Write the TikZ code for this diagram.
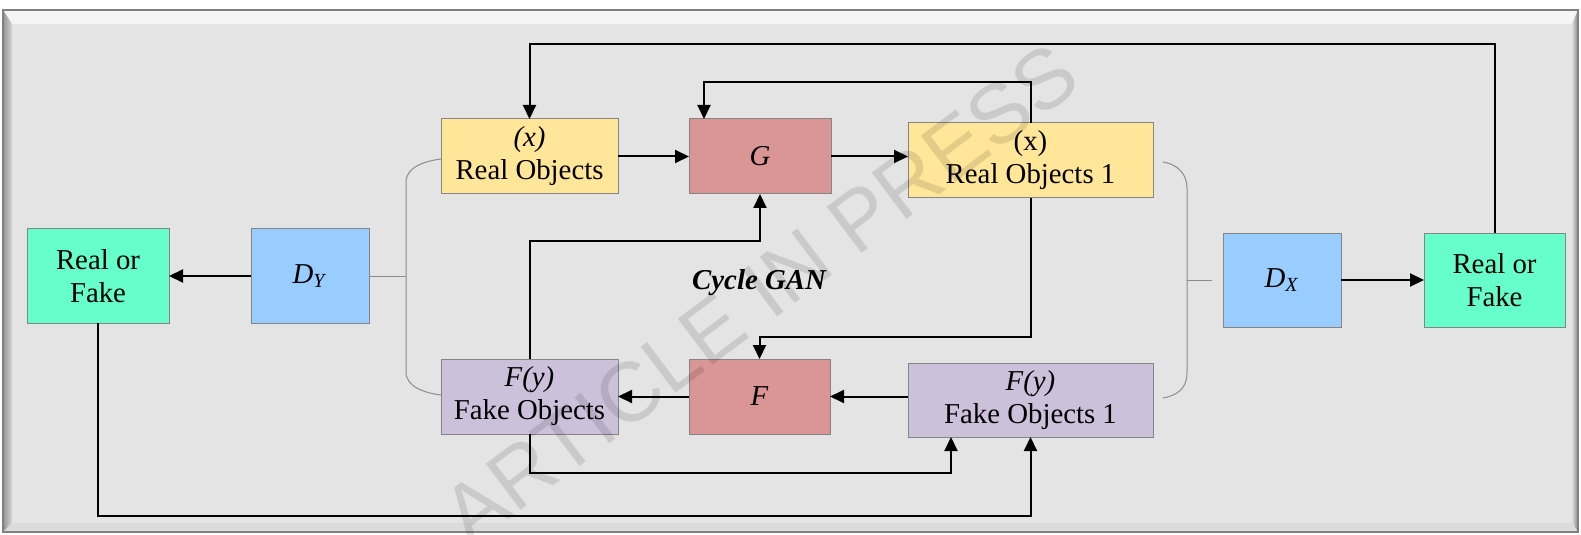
\documentclass[tikz,border=0pt]{standalone}
\usepackage{fontspec}
\setmainfont{Liberation Serif}
\newfontfamily\wmfont{Liberation Sans}
\usetikzlibrary{arrows.meta,calc}
\definecolor{bgface}{HTML}{E4E4E4}
\definecolor{boxline}{HTML}{858585}
\definecolor{realfill}{HTML}{FFE699}
\definecolor{genfill}{HTML}{D99694}
\definecolor{fakefill}{HTML}{CCC1DA}
\definecolor{discfill}{HTML}{99CCFF}
\definecolor{outfill}{HTML}{66FFCC}
\definecolor{bracegray}{HTML}{8C8C8C}
\begin{document}
\begin{tikzpicture}[x=0.5pt,y=-0.5pt,
  box/.style={draw=boxline, line width=0.5pt, inner sep=0pt, outer sep=0pt,
    align=center, font=\fontsize{14.4}{16.5}\selectfont},
  arr/.style={draw=black, line width=1pt, line join=miter,
    -{Triangle[length=7pt,width=6.5pt]}},
  brace/.style={draw=bracegray, line width=0.5pt}]
\useasboundingbox (0,0) rectangle (1581,535);

% bevelled frame
\fill[bgface] (3,10) rectangle (1578,532);
\fill[white!96!black] (3,10) -- (1578,10) -- (1572,24) -- (12,24) -- cycle;
\shade[left color=black!42, right color=black!16] (3,10) -- (12,24) -- (12,523) -- (3,532) -- cycle;
\shade[left color=black!14, right color=black!48] (1578,10) -- (1572,24) -- (1572,523) -- (1578,532) -- cycle;
\fill[black!14] (3,532) -- (12,523) -- (1572,523) -- (1578,532) -- cycle;
\fill[bgface] (12,24) rectangle (1572,523);
\draw[black!50, line width=0.6pt] (3,10) rectangle (1578,532);

% blocks
\node[box, fill=outfill, minimum width=71pt, minimum height=47pt] (rofL) at (98,276) {Real or\\Fake};
\node[box, fill=discfill, minimum width=59pt, minimum height=47pt] (dy) at (310,276) {\textit{D}\textsubscript{\textit{Y}}};
\node[box, fill=realfill, minimum width=88.5pt, minimum height=37.5pt] (ro) at (529.5,156.5) {\textit{(x)}\\Real Objects};
\node[box, fill=genfill, minimum width=71pt, minimum height=37.5pt] (g) at (760,156.5) {\textit{G}};
\node[box, fill=realfill, minimum width=122.5pt, minimum height=37.5pt] (ro1) at (1030.5,160.5) {(x)\\Real Objects 1};
\node[box, fill=fakefill, minimum width=88.5pt, minimum height=37.5pt] (fo) at (529.5,396.5) {\textit{F(y)}\\Fake Objects};
\node[box, fill=genfill, minimum width=70.5pt, minimum height=37.5pt] (f) at (759.5,396.5) {\textit{F}};
\node[box, fill=fakefill, minimum width=122.5pt, minimum height=37pt] (fo1) at (1030.5,400) {\textit{F(y)}\\Fake Objects 1};
\node[box, fill=discfill, minimum width=59pt, minimum height=47pt] (dx) at (1282,280) {\textit{D}\textsubscript{\textit{X}}};
\node[box, fill=outfill, minimum width=70.5pt, minimum height=47pt] (rofR) at (1494.5,280) {Real or\\Fake};

\node[font=\fontsize{14.4}{16.5}\selectfont\bfseries\itshape] (title) at (759,283) {Cycle GAN};

% routing levels
\coordinate (ytop) at (0,44);
\coordinate (ysec) at (0,82);
\coordinate (ymid) at (0,241);
\coordinate (ylow) at (0,337);
\coordinate (yfo) at (0,473);
\coordinate (ybot) at (0,516);
\coordinate (gin) at ($(g.north west)+(15,0)$);
\coordinate (foin) at ($(fo1.south west)+(43,0)$);

% straight connectors
\draw[arr] (ro.east) -- (g.west);
\draw[arr] (g.east) -- (g.east -| ro1.west);
\draw[arr] (f.west) -- (fo.east);
\draw[arr] (f.east -| fo1.west) -- (f.east);
\draw[arr] (dy.west) -- (rofL.east);
\draw[arr] (dx.east) -- (rofR.west);

% cycle connectors
\draw[arr] (rofR.north) -- (rofR.north |- ytop) -- (ro.north |- ytop) -- (ro.north);
\draw[arr] (ro1.north) -- (ro1.north |- ysec) -- (gin |- ysec) -- (gin);
\draw[arr] (fo.north) -- (fo.north |- ymid) -- (g.south |- ymid) -- (g.south);
\draw[arr] (ro1.south) -- (ro1.south |- ylow) -- (f.north |- ylow) -- (f.north);
\draw[arr] (fo.south) -- (fo.south |- yfo) -- (foin |- yfo) -- (foin);
\draw[arr] (rofL.south) -- (rofL.south |- ybot) -- (fo1.south |- ybot) -- (fo1.south);

% discriminator braces
\coordinate (lb) at (406,276);
\draw[brace] (dy.east) -- (lb);
\draw[brace] (ro.west |- 0,159) .. controls (425,161) and (406,167) .. (406,182)
  -- (406,372) .. controls (406,387) and (425,393) .. (fo.west |- 0,395);
\coordinate (rb) at (1187,280);
\draw[brace] (rb) -- (1212,280);
\draw[brace] (1163,162) .. controls (1180,165) and (1187,176) .. (1187,188)
  -- (1187,373) .. controls (1187,386) and (1180,395) .. (1163,398);

% watermark
\node[font=\wmfont\fontsize{42}{42}\selectfont, text=black, text opacity=0.11, rotate=37] (wm) at (760,294) {ARTICLE IN PRESS};
\end{tikzpicture}
\end{document}
